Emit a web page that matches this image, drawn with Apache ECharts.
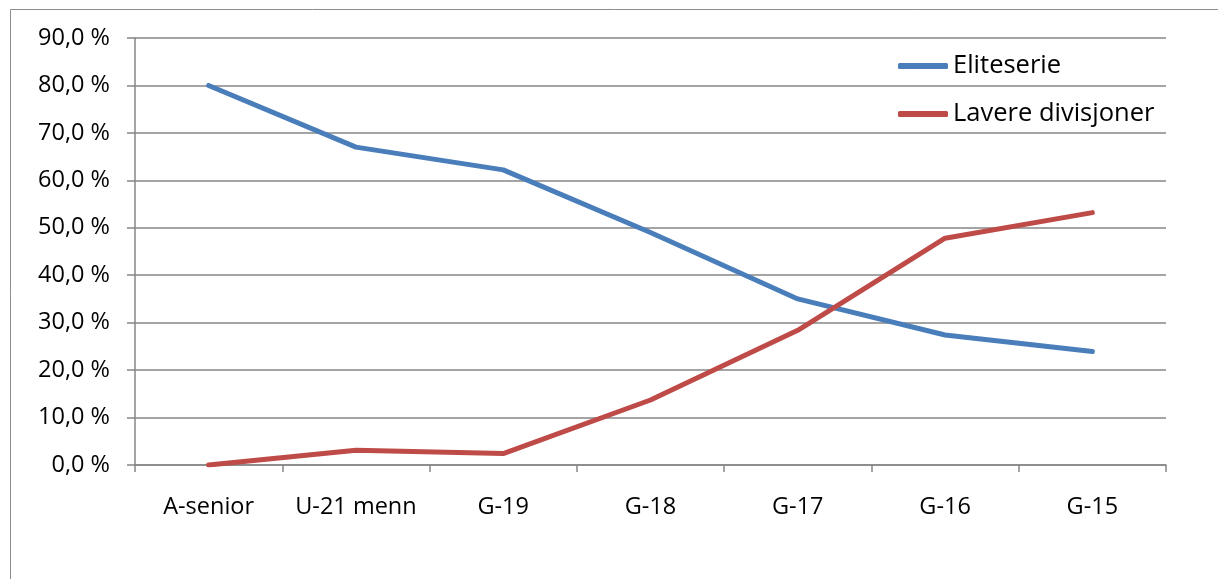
<!DOCTYPE html>
<html><head><meta charset="utf-8">
<script src="https://cdn.jsdelivr.net/npm/echarts@6/dist/echarts.min.js"></script>
<style>html,body{margin:0;padding:0;background:#fff}#c{width:1218px;height:579px}</style>
</head><body><div id="c"></div>
<script>
const categories = ['A-senior', 'U-21 menn', 'G-19', 'G-18', 'G-17', 'G-16', 'G-15'];
const eliteserie = [80.0, 67.0, 62.2, 49.0, 35.0, 27.4, 23.9];
const lavere = [0.0, 3.1, 2.4, 13.7, 28.4, 47.8, 53.2];
const yTicks = [0, 10, 20, 30, 40, 50, 60, 70, 80, 90];
const seriesNames = ['Eliteserie', 'Lavere divisjoner'];

const FONT = 'Open Sans';
const chart = echarts.init(document.getElementById('c'), null, {renderer: 'canvas'});
chart.setOption({
  animation: false,
  backgroundColor: '#fff',
  textStyle: {fontFamily: FONT},
  graphic: [{
    type: 'rect', left: 8, top: 7, silent: true,
    shape: {width: 1400, height: 800},
    style: {fill: 'none', stroke: '#8c8c8c', lineWidth: 1}
  }],
  grid: {left: 135, right: 52, top: 38, bottom: 114, containLabel: false},
  legend: {
    orient: 'vertical', left: 898, top: 52, padding: 0,
    itemWidth: 50, itemHeight: 6, itemGap: 20,
    icon: 'roundRect',
    data: seriesNames,
    textStyle: {fontFamily: FONT, fontSize: 25.5, color: '#000', lineHeight: 28, padding: [0,0,0,0]}
  },
  xAxis: {
    type: 'category', data: categories, boundaryGap: true,
    axisLine: {lineStyle: {color: '#868686', width: 1.5}},
    axisTick: {show: true, length: 7, alignWithLabel: false, lineStyle: {color: '#868686', width: 1.5}},
    axisLabel: {color: '#000', fontSize: 23.5, fontFamily: FONT, margin: 30, interval: 0},
    splitLine: {show: false}
  },
  yAxis: {
    type: 'value', min: 0, max: 90, interval: 10,
    axisLine: {show: true, lineStyle: {color: '#868686', width: 1.5}},
    axisTick: {show: true, length: 8, lineStyle: {color: '#868686', width: 1.5}},
    axisLabel: {color: '#000', fontSize: 23.5, fontFamily: FONT, margin: 25,
      formatter: v => yTicks.includes(v) ? v.toFixed(1).replace('.', ',') + ' %' : ''},
    splitLine: {show: true, lineStyle: {color: '#868686', width: 1.5}}
  },
  series: [
    {name: seriesNames[0], type: 'line', data: eliteserie, symbol: 'none',
     color: '#4A7EBB', lineStyle: {width: 5, color: '#4A7EBB', cap: 'round', join: 'round'}},
    {name: seriesNames[1], type: 'line', data: lavere, symbol: 'none',
     color: '#BE4B48', lineStyle: {width: 5, color: '#BE4B48', cap: 'round', join: 'round'}}
  ]
});
</script></body></html>
